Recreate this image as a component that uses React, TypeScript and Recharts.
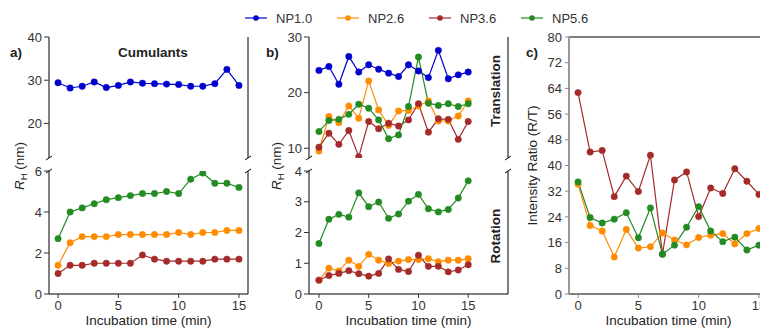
import React from 'react';
import { LineChart, Line, XAxis, YAxis, ReferenceLine, Label } from 'recharts';

const times = [0, 1, 2, 3, 4, 5, 6, 7, 8, 9, 10, 11, 12, 13, 14, 15];
const seriesKeys = ['np10', 'np26', 'np36', 'np56'];
const seriesNames = ['NP1.0', 'NP2.6', 'NP3.6', 'NP5.6'];
const seriesColors = ['#0000cd', '#ff8c00', '#a52a2a', '#228b22'];
const xTicks = [0, 5, 10, 15];

// a) Cumulants
const cumNP10 = [29.4, 28.2, 28.6, 29.6, 28.3, 28.8, 29.6, 29.3, 29.2, 29.1, 29.0, 28.6, 28.6, 29.2, 32.5, 28.8];
const cumNP26 = [1.4, 2.5, 2.8, 2.8, 2.8, 2.9, 2.9, 2.9, 2.9, 2.9, 3.0, 2.9, 3.0, 3.0, 3.1, 3.1];
const cumNP36 = [1.0, 1.4, 1.4, 1.5, 1.5, 1.5, 1.5, 1.9, 1.7, 1.6, 1.6, 1.6, 1.6, 1.7, 1.7, 1.7];
const cumNP56 = [2.7, 4.0, 4.2, 4.4, 4.6, 4.7, 4.8, 4.9, 4.9, 5.0, 4.9, 5.6, 5.9, 5.4, 5.4, 5.2];

// b) Translation
const trNP10 = [24.0, 24.7, 21.5, 26.5, 23.7, 25.0, 24.2, 23.5, 22.9, 25.0, 23.9, 22.7, 27.6, 22.5, 23.2, 23.7];
const trNP26 = [9.5, 15.7, 14.6, 17.6, 15.4, 22.1, 16.9, 14.1, 16.7, 16.8, 17.6, 18.5, 14.9, 14.9, 15.8, 18.5];
const trNP36 = [10.2, 12.7, 10.7, 13.2, 8.5, 14.8, 13.5, 14.5, 14.0, 15.1, 18.0, 12.9, 15.3, 15.2, 11.6, 14.8];
const trNP56 = [13.0, 15.0, 15.2, 16.1, 17.9, 17.2, 15.1, 11.7, 12.4, 17.5, 26.4, 18.1, 17.7, 18.0, 17.5, 18.0];

// b) Rotation
const rotNP26 = [0.45, 0.84, 0.75, 1.1, 0.9, 1.29, 1.1, 0.99, 1.07, 1.12, 1.12, 1.15, 1.05, 1.1, 1.1, 1.15];
const rotNP36 = [0.45, 0.6, 0.67, 0.76, 0.66, 0.58, 0.67, 1.14, 0.8, 0.73, 1.26, 0.9, 0.9, 0.72, 0.78, 0.95];
const rotNP56 = [1.64, 2.43, 2.59, 2.5, 3.29, 2.84, 2.99, 2.46, 2.6, 3.02, 3.24, 2.77, 2.67, 2.75, 3.12, 3.68];

// c) Intensity ratio (R/T)
const ratioNP26 = [34.2, 21.3, 19.6, 11.5, 20.1, 14.3, 14.7, 19.0, 16.8, 15.3, 17.6, 18.3, 18.8, 15.6, 18.8, 20.4];
const ratioNP36 = [62.7, 44.2, 44.7, 30.3, 36.7, 31.9, 43.2, 12.4, 35.5, 38.0, 24.1, 33.0, 31.3, 39.0, 35.1, 31.0];
const ratioNP56 = [34.9, 23.8, 22.1, 23.3, 25.3, 17.5, 26.8, 12.4, 15.2, 20.8, 27.2, 19.6, 16.3, 17.7, 13.7, 15.2];

const build = (cols: Record<string, number[]>) =>
  times.map((t, i) => {
    const row: Record<string, number> = { t };
    Object.keys(cols).forEach((k) => {
      row[k] = cols[k][i];
    });
    return row;
  });

const cumTop = build({ np10: cumNP10 });
const cumBottom = build({ np26: cumNP26, np36: cumNP36, np56: cumNP56 });
const trData = build({ np10: trNP10, np26: trNP26, np36: trNP36, np56: trNP56 });
const rotData = build({ np26: rotNP26, np36: rotNP36, np56: rotNP56 });
const ratioData = build({ np26: ratioNP26, np36: ratioNP36, np56: ratioNP56 });

const colorOf = (k: string) => seriesColors[seriesKeys.indexOf(k)];

const X_A: [number, number] = [-0.75, 15.75];
const X_B: [number, number] = [-1, 19];

const TICK = { fill: '#333', fontSize: 13 };
const TITLE_COLOR = '#222';

const renderLines = (keys: string[]) =>
  keys.map((k) => (
    <Line
      key={k}
      type="linear"
      dataKey={k}
      stroke={colorOf(k)}
      strokeWidth={1.2}
      dot={{ r: 3.2, fill: colorOf(k), stroke: colorOf(k), strokeWidth: 0.5 }}
      activeDot={false}
      isAnimationActive={false}
    />
  ));

const brk = (key: string, x: number, y: number, dx: number, dy: number) => (
  <ReferenceLine
    key={key}
    segment={[
      { x: x - dx, y: y - dy },
      { x: x + dx, y: y + dy },
    ]}
    stroke="#000"
    strokeWidth={1}
    ifOverflow="visible"
  />
);

const box = (left: number, top: number): React.CSSProperties => ({
  position: 'absolute',
  left,
  top,
});

export default function App() {
  return (
    <div
      style={{
        position: 'absolute',
        left: 0,
        top: 0,
        width: 760,
        height: 329,
        overflow: 'hidden',
        background: '#fff',
        fontFamily: '"Liberation Sans", Arial, sans-serif',
      }}
    >
      {/* a) top: NP1.0 */}
      <div style={box(0, 27)}>
        <LineChart width={260} height={140} data={cumTop} margin={{ top: 10, right: 12, bottom: 9, left: 0 }}>
          <XAxis type="number" dataKey="t" domain={X_A} hide allowDataOverflow />
          <YAxis
            type="number"
            domain={[12, 40]}
            ticks={[20, 30, 40]}
            width={49}
            allowDataOverflow
            axisLine={{ stroke: '#000' }}
            tickLine={{ stroke: '#333' }}
            tickSize={5}
            tickMargin={2}
            tick={TICK}
            interval={0}
          />
          <ReferenceLine x={X_A[1]} stroke="#000" ifOverflow="visible" />
          {brk('b1', X_A[0], 12, 0.25, 0.46)}
          {brk('b2', X_A[1], 12, 0.25, 0.46)}
          {renderLines(['np10'])}
        </LineChart>
      </div>

      {/* a) bottom */}
      <div style={box(0, 161)}>
        <LineChart width={260} height={168} data={cumBottom} margin={{ top: 10, right: 12, bottom: 0, left: 0 }}>
          <XAxis
            type="number"
            dataKey="t"
            domain={X_A}
            ticks={xTicks}
            allowDataOverflow
            height={35}
            axisLine={{ stroke: '#000' }}
            tickLine={{ stroke: '#333' }}
            tickSize={4}
            tickMargin={3}
            tick={TICK}
            interval={0}
          >
            <Label value="Incubation time (min)" position="insideBottom" offset={4} fill={TITLE_COLOR} fontSize={13.5} />
          </XAxis>
          <YAxis
            type="number"
            domain={[0, 6]}
            ticks={[0, 2, 4, 6]}
            width={49}
            allowDataOverflow
            axisLine={{ stroke: '#000' }}
            tickLine={{ stroke: '#333' }}
            tickSize={5}
            tickMargin={2}
            tick={TICK}
            interval={0}
          />
          <ReferenceLine x={X_A[1]} stroke="#000" ifOverflow="visible" />
          {brk('b3', X_A[0], 6, 0.25, 0.1)}
          {brk('b4', X_A[1], 6, 0.25, 0.1)}
          {renderLines(['np56', 'np26', 'np36'])}
        </LineChart>
      </div>

      {/* b) top: Translation */}
      <div style={box(260, 27)}>
        <LineChart width={260} height={140} data={trData} margin={{ top: 10, right: 12, bottom: 9, left: 0 }}>
          <XAxis type="number" dataKey="t" domain={X_B} hide allowDataOverflow />
          <YAxis
            type="number"
            domain={[8.25, 30]}
            ticks={[10, 20, 30]}
            width={49}
            allowDataOverflow
            axisLine={{ stroke: '#000' }}
            tickLine={{ stroke: '#333' }}
            tickSize={5}
            tickMargin={2}
            tick={TICK}
            interval={0}
          />
          <ReferenceLine x={X_B[1]} stroke="#000" ifOverflow="visible" />
          {brk('b5', X_B[0], 8.25, 0.3, 0.36)}
          {brk('b6', X_B[1], 8.25, 0.3, 0.36)}
          {renderLines(['np10', 'np26', 'np36', 'np56'])}
        </LineChart>
      </div>

      {/* b) bottom: Rotation */}
      <div style={box(260, 161)}>
        <LineChart width={260} height={168} data={rotData} margin={{ top: 10, right: 12, bottom: 0, left: 0 }}>
          <XAxis
            type="number"
            dataKey="t"
            domain={X_B}
            ticks={xTicks}
            allowDataOverflow
            height={35}
            axisLine={{ stroke: '#000' }}
            tickLine={{ stroke: '#333' }}
            tickSize={4}
            tickMargin={3}
            tick={TICK}
            interval={0}
          >
            <Label value="Incubation time (min)" position="insideBottom" offset={4} fill={TITLE_COLOR} fontSize={13.5} />
          </XAxis>
          <YAxis
            type="number"
            domain={[0, 4]}
            ticks={[0, 1, 2, 3, 4]}
            width={49}
            allowDataOverflow
            axisLine={{ stroke: '#000' }}
            tickLine={{ stroke: '#333' }}
            tickSize={5}
            tickMargin={2}
            tick={TICK}
            interval={0}
          />
          <ReferenceLine x={X_B[1]} stroke="#000" ifOverflow="visible" />
          {brk('b7', X_B[0], 4, 0.3, 0.065)}
          {brk('b8', X_B[1], 4, 0.3, 0.065)}
          {renderLines(['np56', 'np26', 'np36'])}
        </LineChart>
      </div>

      {/* c) Intensity ratio */}
      <div style={box(520, 27)}>
        <LineChart width={260} height={302} data={ratioData} margin={{ top: 10, right: 12, bottom: 0, left: 0 }}>
          <XAxis
            type="number"
            dataKey="t"
            domain={X_A}
            ticks={xTicks}
            allowDataOverflow
            height={35}
            axisLine={{ stroke: '#000' }}
            tickLine={{ stroke: '#888' }}
            tickSize={4}
            tickMargin={3}
            tick={TICK}
            interval={0}
          >
            <Label value="Incubation time (min)" position="insideBottom" offset={4} fill={TITLE_COLOR} fontSize={13.5} />
          </XAxis>
          <YAxis
            type="number"
            domain={[0, 80]}
            ticks={[0, 8, 16, 24, 32, 40, 48, 56, 64, 72, 80]}
            width={49}
            allowDataOverflow
            axisLine={{ stroke: '#999', strokeWidth: 2 }}
            tickLine={{ stroke: '#888' }}
            tickSize={4}
            tickMargin={3}
            tick={TICK}
            interval={0}
          />
          <ReferenceLine y={80} stroke="#000" ifOverflow="visible" />
          {renderLines(['np36', 'np26', 'np56'])}
        </LineChart>
      </div>

      {/* annotations and legend */}
      <svg
        width={760}
        height={329}
        style={{ position: 'absolute', left: 0, top: 0, pointerEvents: 'none' }}
      >
        {seriesNames.map((name, i) => (
          <g key={name}>
            <line x1={245 + 92 * i} x2={267 + 92 * i} y1={18} y2={18} stroke={seriesColors[i]} strokeWidth={1.2} />
            <circle cx={256 + 92 * i} cy={18} r={2.8} fill={seriesColors[i]} />
            <text x={276 + 92 * i} y={22.6} fontSize={13} fill="#333">
              {name}
            </text>
          </g>
        ))}
        <text x={10} y={57} fontSize={13.5} fontWeight="bold" fill={TITLE_COLOR}>a)</text>
        <text x={266} y={57} fontSize={13.5} fontWeight="bold" fill={TITLE_COLOR}>b)</text>
        <text x={526} y={57} fontSize={13.5} fontWeight="bold" fill={TITLE_COLOR}>c)</text>
        <text x={153} y={57} fontSize={13.5} fontWeight="bold" textAnchor="middle" fill={TITLE_COLOR}>Cumulants</text>
        <text transform="translate(500,91) rotate(-90)" fontSize={13.5} fontWeight="bold" textAnchor="middle" fill={TITLE_COLOR}>Translation</text>
        <text transform="translate(500,236) rotate(-90)" fontSize={13.5} fontWeight="bold" textAnchor="middle" fill={TITLE_COLOR}>Rotation</text>
        <text transform="translate(23.5,166) rotate(-90)" fontSize={13.5} textAnchor="middle" fill={TITLE_COLOR}>
          <tspan fontStyle="italic">R</tspan>
          <tspan fontSize={9.5} dy={3}>H</tspan>
          <tspan dy={-3}> (nm)</tspan>
        </text>
        <text transform="translate(280.5,166) rotate(-90)" fontSize={13.5} textAnchor="middle" fill={TITLE_COLOR}>
          <tspan fontStyle="italic">R</tspan>
          <tspan fontSize={9.5} dy={3}>H</tspan>
          <tspan dy={-3}> (nm)</tspan>
        </text>
        <text transform="translate(537,165.5) rotate(-90)" fontSize={13.5} textAnchor="middle" fill={TITLE_COLOR}>
          Intensity Ratio (R/T)
        </text>
      </svg>
    </div>
  );
}
